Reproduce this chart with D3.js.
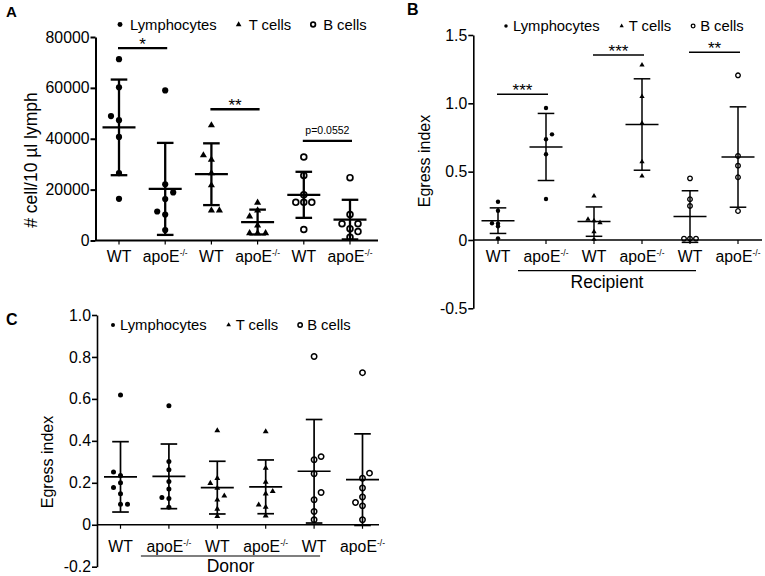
<!DOCTYPE html>
<html lang="en">
<head>
<meta charset="UTF-8">
<title>Lymph egress</title>
<style>
  body { margin: 0; background: #fff; }
  svg { font-family: "Liberation Sans", Arial, sans-serif; }
</style>
</head>
<body>
<div id="viz"></div>
<script src="https://d3js.org/d3.v7.min.js"></script>
<script>
  const groupLabels = ["WT", "apoE", "WT", "apoE", "WT", "apoE"]
  const groupSeries = [0, 0, 1, 1, 2, 2]   // which cell type each group is
  const seriesNames = ["Lymphocytes", "T cells", "B cells"]

  // A: # cells / 10 ul lymph
  const aTicks = [0, 20000, 40000, 60000, 80000]
  const aTickLabels = ["0", "20000", "40000", "60000", "80000"]
  const aValues = [
    [71300, 60200, 48900, 47300, 40700, 26500, 16400],
    [59000, 22100, 18900, 16300, 11400, 10200, 4100],
    [45300, 33500, 31800, 26500, 21700, 11800, 11800],
    [14900, 11800, 9500, 5900, 2900, 2900, 2900],
    [32800, 25600, 18000, 15000, 15000, 15000, 4300],
    [24700, 10200, 6600, 6600, 4600, 3500, 1300]
  ]
  const aSlots = [
    [0, 0, -1, 0, 0, 0, 0],
    [0, 0, 1, 0, -1, 0, 0],
    [0, -1, 0, 0, 0, 0, 1],
    [0, 0, -1, 0, -1, 0, 1],
    [0, 0, 0, -1, 0, 1, 0],
    [0, 0, -1, 1, 0, 1, 0]
  ]
  const aSigPairs = [[0, 1], [2, 3], [4, 5]]
  const aSigLabels = ["*", "**", "p=0.0552"]
  const aSigLevels = [75600, 51600, 39200]

  // B: egress index, recipient
  const bTicks = [-0.5, 0, 0.5, 1.0, 1.5]
  const bTickLabels = ["-0.5", "0", "0.5", "1.0", "1.5"]
  const bValues = [
    [0.28, 0.214, 0.122, 0.12, 0.10, 0.012],
    [0.966, 0.773, 0.737, 0.627, 0.30],
    [0.322, 0.151, 0.14, 0.127, 0.061, 0.005],
    [1.28, 1.05, 0.854, 0.573, 0.468],
    [0.451, 0.298, 0.249, 0.01, 0.01, 0.01],
    [1.205, 0.615, 0.544, 0.459, 0.212]
  ]
  const bSlots = [
    [0, 0, -1, 0, 0, 0],
    [0, 1, 0, 0, 0],
    [0, -1, 0, 1, 0, 0],
    [0, 0, 0, 0, 0],
    [0, 0, 0, -1, 0, 1],
    [0, 0, 0, 0, 0]
  ]
  const bSigPairs = [[0, 1], [2, 3], [4, 5]]
  const bSigLabels = ["***", "***", "**"]
  const bSigLevels = [1.066, 1.354, 1.373]

  // C: egress index, donor
  const cTicks = [-0.2, 0, 0.2, 0.4, 0.6, 0.8, 1.0]
  const cTickLabels = ["-0.2", "0", "0.2", "0.4", "0.6", "0.8", "1.0"]
  const cValues = [
    [0.619, 0.251, 0.235, 0.2, 0.178, 0.148, 0.098, 0.098],
    [0.567, 0.302, 0.262, 0.206, 0.17, 0.13, 0.125, 0.084],
    [0.449, 0.222, 0.198, 0.175, 0.138, 0.119, 0.075, 0.04],
    [0.444, 0.27, 0.203, 0.159, 0.148, 0.095, 0.084, 0.043],
    [0.802, 0.325, 0.31, 0.243, 0.154, 0.119, 0.063, 0.024],
    [0.725, 0.246, 0.222, 0.175, 0.132, 0.106, 0.09, 0.024]
  ]
  const cSlots = [
    [0, -1, 0, 0, -1, 0, 0, 1],
    [0, 0, 0, 0, 0, -1, 0, 0],
    [0, 0, -1, 0, 1, 0, 0, 0],
    [0, 0, 0, 1, 0, -1, 0, 0],
    [0, 1, 0, 0, 1, 0, 0, 0],
    [0, 1, 0, 0, 0, -1, 0, 0]
  ]

  const panels = [
    {
      tag: "A", values: aValues, slots: aSlots, domain: [0, 80000], ticks: aTicks, tickLabels: aTickLabels,
      title: "# cell/10 \u00b5l lymph", sigPairs: aSigPairs, sigLabels: aSigLabels, sigLevels: aSigLevels, bracket: null,
      L: {tagX: 6, tagY: 16.5, tagSize: 15, axisX: 95.5, yTop: 37, yBottom: 240.5, xRange: [119, 350], xEnd: 378,
          labelY: 262, titleX: 37, titleY: 160, titleSize: 17.5, legendX: 120, legendY: 29.5, legendGap: 10,
          slotW: 8, lw: 2.3, axisW: 2, dotR: 3.1, triSize: 22, ringR: 2.9, ringW: 1.7}
    },
    {
      tag: "B", values: bValues, slots: bSlots, domain: [-0.5, 1.5], ticks: bTicks, tickLabels: bTickLabels,
      title: "Egress index", sigPairs: bSigPairs, sigLabels: bSigLabels, sigLevels: bSigLevels,
      bracket: {from: 1, to: 4, text: "Recipient", y: 270.7, textY: 288},
      L: {tagX: 407, tagY: 15, tagSize: 16, axisX: 473.3, yTop: 35, yBottom: 308.3, xRange: [498, 738], xEnd: 762,
          labelY: 262, titleX: 430, titleY: 161, titleSize: 16, legendX: 506, legendY: 31, legendGap: 7,
          slotW: 6, lw: 1.5, axisW: 1.6, dotR: 2.2, triSize: 12, ringR: 2.3, ringW: 1.3}
    },
    {
      tag: "C", values: cValues, slots: cSlots, domain: [-0.2, 1.0], ticks: cTicks, tickLabels: cTickLabels,
      title: "Egress index", sigPairs: [], sigLabels: [], sigLevels: [],
      bracket: {from: 1, to: 4, text: "Donor", y: 556, textY: 571.5},
      L: {tagX: 6, tagY: 325, tagSize: 16, axisX: 97, yTop: 315, yBottom: 566.7, xRange: [120.5, 362.5], xEnd: 379,
          labelY: 552, titleX: 53, titleY: 462, titleSize: 16, legendX: 113, legendY: 330, legendGap: 7,
          slotW: 7, lw: 1.7, axisW: 1.6, dotR: 2.5, triSize: 15, ringR: 2.7, ringW: 1.5}
    }
  ]

  const svg = d3.select("#viz").append("svg")
    .attr("width", 765)
    .attr("height", 576)

  panels.forEach(drawPanel)

  function marker(sel, type, L, scale) {
    scale = scale || 1
    if (type === 0) {
      sel.append("circle").attr("r", L.dotR * scale).attr("fill", "#000")
    } else if (type === 1) {
      sel.append("path").attr("d", d3.symbol(d3.symbolTriangle, L.triSize * scale * scale)()).attr("fill", "#000")
    } else {
      sel.append("circle").attr("r", L.ringR * scale).attr("fill", "none")
        .attr("stroke", "#000").attr("stroke-width", L.ringW)
    }
  }

  function drawPanel(p) {
    const L = p.L
    const g = svg.append("g")
    const y = d3.scaleLinear().domain(p.domain).range([L.yBottom, L.yTop])
    const x = d3.scalePoint().domain(d3.range(groupLabels.length)).range(L.xRange)

    g.append("text")
      .attr("x", L.tagX).attr("y", L.tagY)
      .attr("font-size", L.tagSize).attr("font-weight", "bold")
      .text(p.tag)

    // y axis
    const yAxis = g.append("g")
      .attr("transform", "translate(" + L.axisX + ",0)")
      .call(d3.axisLeft(y).tickValues(p.ticks)
        .tickFormat(function(d, i) { return p.tickLabels[i] })
        .tickSize(5).tickPadding(1).tickSizeOuter(0))
    yAxis.selectAll("path, line").attr("stroke", "#000").attr("stroke-width", L.axisW)
    yAxis.selectAll("text").attr("font-size", 15.8).attr("fill", "#000")
      .attr("font-family", "Liberation Sans, Arial, sans-serif")

    // x axis at zero
    const y0 = y(0)
    g.append("line")
      .attr("x1", L.axisX).attr("x2", L.xEnd)
      .attr("y1", y0).attr("y2", y0)
      .attr("stroke", "#000").attr("stroke-width", L.axisW)
    g.selectAll("line.xtick")
      .data(groupLabels)
      .enter()
      .append("line")
      .attr("class", "xtick")
      .attr("x1", function(_, i) { return x(i) }).attr("x2", function(_, i) { return x(i) })
      .attr("y1", y0).attr("y2", y0 + 4)
      .attr("stroke", "#000").attr("stroke-width", 1.2)

    const labels = g.selectAll("text.xlab")
      .data(groupLabels)
      .enter()
      .append("text")
      .attr("class", "xlab")
      .attr("x", function(_, i) { return x(i) })
      .attr("y", L.labelY)
      .attr("text-anchor", "middle")
      .attr("font-size", 15.8)
    labels.append("tspan").text(function(d) { return d })
    labels.filter(function(d) { return d === "apoE" })
      .append("tspan")
      .attr("font-size", 8.5)
      .attr("dy", -6.5)
      .text("-/-")

    // y title
    g.append("text")
      .attr("transform", "translate(" + L.titleX + "," + L.titleY + ") rotate(-90)")
      .attr("text-anchor", "middle")
      .attr("font-size", L.titleSize)
      .text(p.title)

    // legend
    let cursor = L.legendX
    seriesNames.forEach(function(name, si) {
      const m = g.append("g").attr("transform", "translate(" + cursor + "," + (L.legendY - 5) + ")")
      marker(m, si, L, 0.8)
      const t = g.append("text")
        .attr("x", cursor + L.legendGap).attr("y", L.legendY)
        .attr("font-size", 14.8)
        .text(name)
      cursor = cursor + L.legendGap + t.node().getComputedTextLength() + 22
    })

    // mean +- SD
    p.values.forEach(function(vals, gi) {
      const mean = d3.mean(vals)
      const sd = d3.deviation(vals)
      const cx = x(gi)
      const bars = g.append("g").attr("stroke", "#000").attr("stroke-width", L.lw)
      bars.append("line").attr("x1", cx).attr("x2", cx).attr("y1", y(mean - sd)).attr("y2", y(mean + sd))
      bars.append("line").attr("x1", cx - 16.5).attr("x2", cx + 16.5).attr("y1", y(mean)).attr("y2", y(mean))
      ;[mean - sd, mean + sd].forEach(function(v) {
        bars.append("line").attr("x1", cx - 8.3).attr("x2", cx + 8.3).attr("y1", y(v)).attr("y2", y(v))
      })
    })

    // points
    p.values.forEach(function(vals, gi) {
      g.selectAll("g.pt" + gi)
        .data(vals)
        .enter()
        .append("g")
        .attr("class", "pt" + gi)
        .attr("transform", function(v, i) {
          return "translate(" + (x(gi) + p.slots[gi][i] * L.slotW) + "," + y(v) + ")"
        })
        .each(function() { marker(d3.select(this), groupSeries[gi], L) })
    })

    // significance bars
    p.sigPairs.forEach(function(pair, k) {
      const ly = y(p.sigLevels[k])
      const x1 = x(pair[0]) - 1, x2 = x(pair[1]) + 2
      g.append("line")
        .attr("x1", x1).attr("x2", x2).attr("y1", ly).attr("y2", ly)
        .attr("stroke", "#000").attr("stroke-width", L.lw)
      const small = p.sigLabels[k].charAt(0) === "p"
      g.append("text")
        .attr("x", (x1 + x2) / 2)
        .attr("y", small ? ly - 6.5 : ly + 2)
        .attr("text-anchor", "middle")
        .attr("font-size", small ? 10.5 : 17)
        .text(p.sigLabels[k])
    })

    // recipient / donor bracket
    if (p.bracket) {
      const b = p.bracket
      const bx1 = x(b.from) - 28, bx2 = x(b.to) + 6
      g.append("line")
        .attr("x1", bx1).attr("x2", bx2).attr("y1", b.y).attr("y2", b.y)
        .attr("stroke", "#000").attr("stroke-width", 1.2)
      g.append("text")
        .attr("x", (bx1 + bx2) / 2)
        .attr("y", b.textY)
        .attr("text-anchor", "middle")
        .attr("font-size", 17.5)
        .text(b.text)
    }
  }
</script>
</body>
</html>
